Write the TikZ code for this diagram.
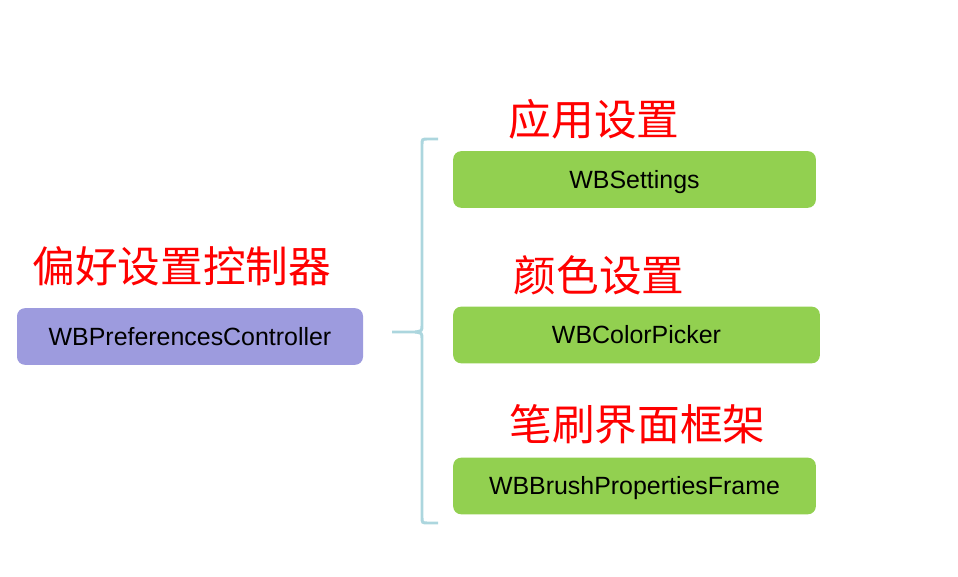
\documentclass[tikz,border=0pt]{standalone}
\usepackage{fontspec}
\setmainfont{Liberation Sans}
\newfontfamily\cjk{Noto Sans CJK SC}
\usepackage{tikz}
\usetikzlibrary{positioning, calc}
\definecolor{ctrlpurple}{RGB}{157,155,222}
\definecolor{partgreen}{RGB}{146,208,80}
\definecolor{bracecol}{RGB}{172,214,222}
\tikzset{
    classbox/.style={rounded corners=6pt, minimum height=42.5pt, inner sep=0pt,
      text height=13.4pt, text depth=0pt,
      font=\fontsize{18.7}{22}\selectfont, text=black},
    ctrlbox/.append style={classbox, fill=ctrlpurple, minimum width=259.5pt},
    partbox/.append style={classbox, fill=partgreen, minimum width=272pt},
    cnlabel/.style={font=\cjk\fontsize{32}{36}\selectfont, text=red, inner sep=0pt},
}

\begin{document}
\begin{tikzpicture}[x=0.75pt, y=-0.75pt]
    \useasboundingbox (0,0) rectangle (958,577);

    \node[ctrlbox] (ctrl) at (190,336.5) {WBPreferencesController};
    \node[cnlabel] (ctrlname) at (181.7,266) {偏好设置控制器};

    \node[partbox] (settings) at (634.5,179.5) {WBSettings};
    \node[partbox, minimum width=275pt] (picker) at (636.5,335) {WBColorPicker};
    \node[partbox] (brush) at (634.5,486) {WBBrushPropertiesFrame};

    \node[cnlabel] (settingsname) at (594,119) {应用设置};
    \node[cnlabel] (pickername) at (599,275) {颜色设置};
    \node[cnlabel] (brushname) at (637.5,424) {笔刷界面框架};

    % brace joining controller and parts
    \coordinate (bt) at (438,139);
    \coordinate (bm) at (392,332);
    \coordinate (bb) at (438,523);
    \draw[bracecol, line width=2.2pt]
      (bt) -- (428,139) .. controls (422,139) .. (422,145) -- (422,325)
      .. controls (422,331) .. (415,332) -- (bm);
    \draw[bracecol, line width=2.2pt]
      (415,332) .. controls (422,333) .. (422,339) -- (422,517)
      .. controls (422,523) .. (428,523) -- (bb);
\end{tikzpicture}
\end{document}
